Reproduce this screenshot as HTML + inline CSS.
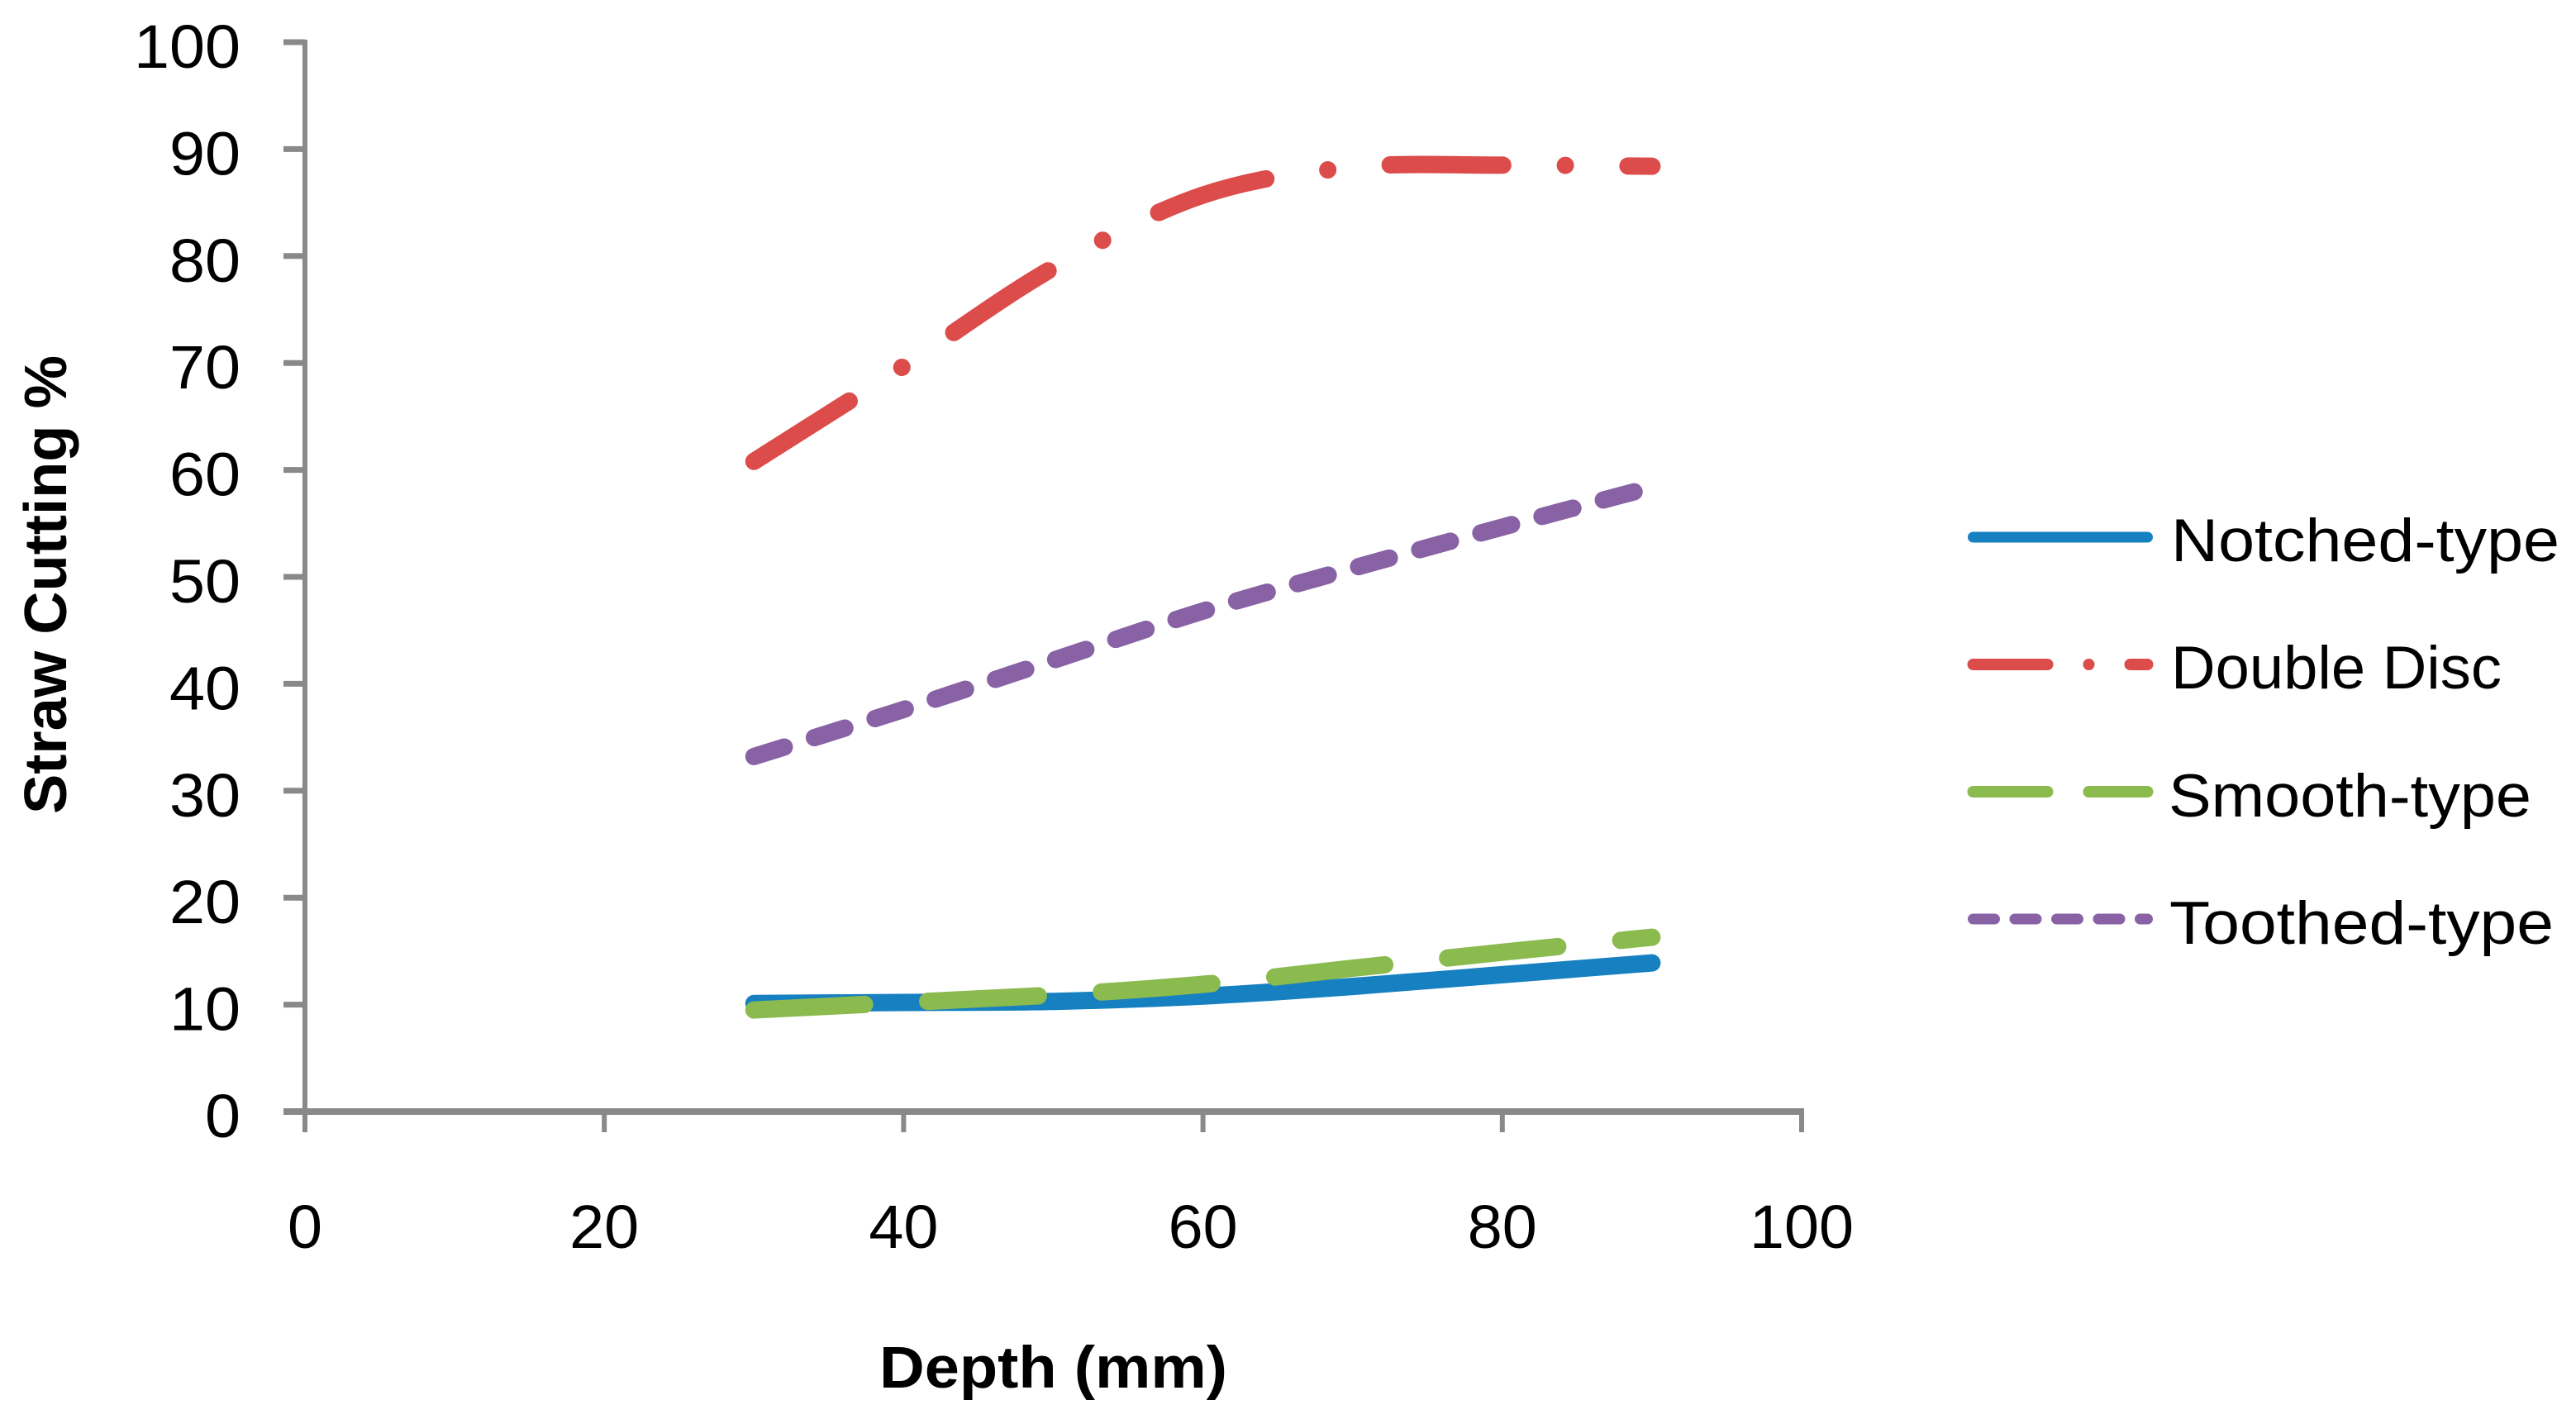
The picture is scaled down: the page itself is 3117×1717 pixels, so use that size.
<!DOCTYPE html>
<html lang="en">
<head>
<meta charset="utf-8">
<title>Straw Cutting % vs Depth</title>
<style>
html,body{margin:0;padding:0;background:#fff;width:3117px;height:1717px;overflow:hidden}
svg{display:block}
text{font-family:"Liberation Sans",sans-serif;fill:#000}
</style>
</head>
<body>
<svg id="chart" xmlns="http://www.w3.org/2000/svg" width="3117" height="1717" viewBox="0 0 3117 1717">
  <rect x="0" y="0" width="3117" height="1717" fill="#fff"/>
  <g id="axes"></g>
  <g id="series"></g>
  <text x="1064" y="1679" font-size="71" font-weight="bold" textLength="421" lengthAdjust="spacingAndGlyphs">Depth (mm)</text>
  <text transform="translate(80,985) rotate(-90)" font-size="72" font-weight="bold" textLength="555" lengthAdjust="spacingAndGlyphs">Straw Cutting %</text>
  <g>
    <g>
      <line x1="2387.5" x2="2598.5" y1="650" y2="650" stroke="#1780c0" stroke-width="13" stroke-linecap="round"/>
      <text x="2627" y="679" font-size="73" textLength="470" lengthAdjust="spacingAndGlyphs">Notched-type</text>
    </g>
    <g>
      <line x1="2387.5" x2="2598.5" y1="804" y2="804" stroke="#dc4c4a" stroke-width="14" stroke-linecap="round" stroke-dasharray="90 50 0.01 50"/>
      <text x="2627" y="833" font-size="73" textLength="400" lengthAdjust="spacingAndGlyphs">Double Disc</text>
    </g>
    <g>
      <line x1="2387.5" x2="2598.5" y1="958" y2="958" stroke="#8bbb4e" stroke-width="14" stroke-linecap="round" stroke-dasharray="90 50"/>
      <text x="2624" y="988" font-size="73" textLength="439" lengthAdjust="spacingAndGlyphs">Smooth-type</text>
    </g>
    <g>
      <line x1="2387.5" x2="2598.5" y1="1112" y2="1112" stroke="#8862a4" stroke-width="13" stroke-linecap="round" stroke-dasharray="26 24.5"/>
      <text x="2625" y="1142" font-size="73" textLength="465" lengthAdjust="spacingAndGlyphs">Toothed-type</text>
    </g>
  </g>
</svg>
<script>
const depths = [30, 40, 50, 60, 70, 80, 90];
const notchedValues = [10.1, 10.2, 10.3, 10.8, 11.7, 12.8, 13.9];
const doubleDiscValues = [60.8, 69.7, 78.9, 85.7, 88.3, 88.5, 88.4];
const smoothValues = [9.5, 10.2, 10.9, 11.9, 13.4, 14.9, 16.3];
const toothedValues = [33.2, 37.6, 42.2, 46.8, 50.8, 54.65, 58.4];
const xTickValues = [0, 20, 40, 60, 80, 100];
const yTickValues = [0, 10, 20, 30, 40, 50, 60, 70, 80, 90, 100];

const NS = 'http://www.w3.org/2000/svg';
const axisColor = '#898989';
const X0 = 369, X100 = 2180, Y0 = 1345, Y100 = 51;
function xScale(v) { return X0 + (X100 - X0) * v / 100; }
function yScale(v) { return Y0 - (Y0 - Y100) * v / 100; }

const axes = document.getElementById('axes');
const seriesGroup = document.getElementById('series');

function makeLine(x1, y1, x2, y2, w) {
  const l = document.createElementNS(NS, 'line');
  l.setAttribute('x1', x1);
  l.setAttribute('y1', y1);
  l.setAttribute('x2', x2);
  l.setAttribute('y2', y2);
  l.setAttribute('stroke', axisColor);
  l.setAttribute('stroke-width', w);
  return l;
}

const yAxisLine = makeLine(X0, Y100 - 3, X0, Y0, 6);


axes.appendChild(yAxisLine);

const xAxisLine = makeLine(343, Y0, X100 + 3, Y0, 8);


axes.appendChild(xAxisLine);

yTickValues.forEach(function (v) {
  if (v !== 0) {
    const t = makeLine(343, yScale(v), X0, yScale(v), 7);
    
    
    axes.appendChild(t);
  }
  const lab = document.createElementNS(NS, 'text');
  
  
  lab.setAttribute('x', 291);
  lab.setAttribute('y', yScale(v) + 31);
  lab.setAttribute('font-size', 74);
  lab.setAttribute('text-anchor', 'end');
  lab.setAttribute('textLength', String(v).length * 43);
  lab.setAttribute('lengthAdjust', 'spacingAndGlyphs');
  lab.textContent = String(v);
  axes.appendChild(lab);
});

xTickValues.forEach(function (v) {
  const t = makeLine(xScale(v), Y0, xScale(v), 1370, 6);
  
  
  axes.appendChild(t);
  const lab = document.createElementNS(NS, 'text');
  
  
  lab.setAttribute('x', xScale(v));
  lab.setAttribute('y', 1510);
  lab.setAttribute('font-size', 74);
  lab.setAttribute('text-anchor', 'middle');
  lab.setAttribute('textLength', String(v).length * 42);
  lab.setAttribute('lengthAdjust', 'spacingAndGlyphs');
  lab.textContent = String(v);
  axes.appendChild(lab);
});

function smoothPath(xs, ys) {
  const pts = xs.map(function (x, i) { return [xScale(x), yScale(ys[i])]; });
  let d = 'M' + pts[0][0] + ' ' + pts[0][1];
  for (let i = 0; i < pts.length - 1; i++) {
    const p0 = pts[Math.max(i - 1, 0)];
    const p1 = pts[i];
    const p2 = pts[i + 1];
    const p3 = pts[Math.min(i + 2, pts.length - 1)];
    const c1x = p1[0] + (p2[0] - p0[0]) / 6;
    const c1y = p1[1] + (p2[1] - p0[1]) / 6;
    const c2x = p2[0] - (p3[0] - p1[0]) / 6;
    const c2y = p2[1] - (p3[1] - p1[1]) / 6;
    d += ' C' + c1x + ' ' + c1y + ' ' + c2x + ' ' + c2y + ' ' + p2[0] + ' ' + p2[1];
  }
  return d;
}

function drawSeries(values, color, dash) {
  const p = document.createElementNS(NS, 'path');
  p.setAttribute('d', smoothPath(depths, values));
  p.setAttribute('fill', 'none');
  p.setAttribute('stroke', color);
  p.setAttribute('stroke-width', 21);
  p.setAttribute('stroke-linecap', 'round');
  p.setAttribute('stroke-linejoin', 'round');
  if (dash) p.setAttribute('stroke-dasharray', dash);
  seriesGroup.appendChild(p);
  return p;
}

const notchedLine = drawSeries(notchedValues, '#1780c0', '');



const doubleDiscLine = drawSeries(doubleDiscValues, '#dc4c4a', '136.3 75.7 0.01 75.7');



const smoothLine = drawSeries(smoothValues, '#8bbb4e', '134 76.5');



const toothedLine = drawSeries(toothedValues, '#8862a4', '38.5 38.2');


</script>
</body>
</html>
